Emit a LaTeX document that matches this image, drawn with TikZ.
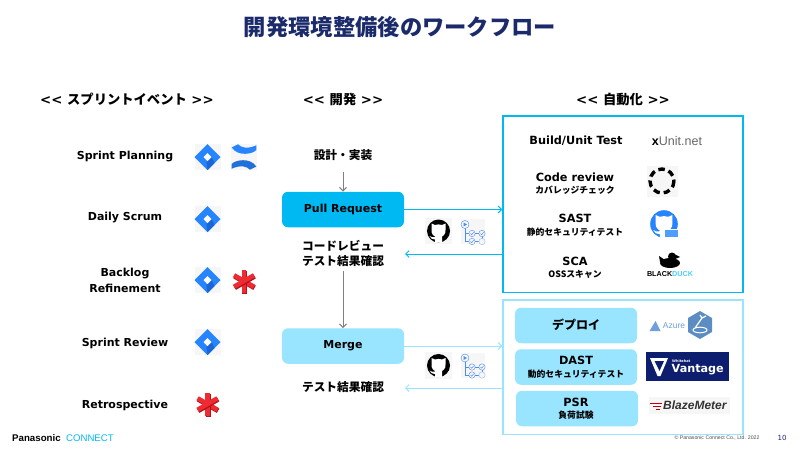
\documentclass[tikz,border=0pt]{standalone}
\usepackage{fontspec}
\setmainfont{DejaVu Sans}
\newfontfamily\jp{Noto Sans CJK JP}
\newfontfamily\lib{Liberation Sans}
\usetikzlibrary{arrows.meta}

\definecolor{titlenavy}{HTML}{1B2A6B}
\definecolor{pullcyan}{HTML}{00B9F2}
\definecolor{mergecyan}{HTML}{99E5FF}
\definecolor{jirablue}{HTML}{2684FF}
\definecolor{jiradark}{HTML}{1A66D6}
\definecolor{iconbg}{HTML}{F6F6F6}
\definecolor{starred}{HTML}{EE2A33}
\definecolor{stardark}{HTML}{B5121B}
\definecolor{vantagenavy}{HTML}{0E1E6E}
\definecolor{azureblue}{HTML}{6F9FDC}
\definecolor{hexblue}{HTML}{5B8DC2}
\definecolor{pipeblue}{HTML}{4A8CF0}

\tikzset{
  every node/.style={inner sep=0pt, font=\bfseries},
  heading/.style={font=\fontsize{13.3}{16}\bfseries},
  eventlabel/.style={font=\fontsize{11}{16}\bfseries, align=center},
  steplabel/.style={font=\fontsize{11.7}{15}\bfseries\jp, align=center},
  toolname/.style={font=\fontsize{11.3}{14}\bfseries, align=center},
  toolnote/.style={font=\fontsize{8.8}{11}\bfseries\jp, align=center},
  graylink/.style={draw=black!50, line width=1pt, -{Straight Barb[length=3.5pt,width=7pt]}},
  pulllink/.style={draw=pullcyan, line width=1pt, -{Straight Barb[length=3.5pt,width=7pt]}},
  mergelink/.style={draw=mergecyan, line width=1pt, -{Straight Barb[length=3.5pt,width=7pt]}},
  flowbox/.style={rounded corners=6pt, minimum width=122pt, minimum height=35.5pt, font=\fontsize{11}{14}\bfseries},
  toolbox/.style={fill=mergecyan, rounded corners=6pt, minimum width=122pt, minimum height=35.5pt},
  pics/jiraicon/.style={code={
    \fill[iconbg] (-13,-13) rectangle (13,13);
    \fill[jirablue] (-13,0) -- (0,-13) -- (13,0) -- (0,13) -- cycle;
    \fill[jiradark] (4,0) -- (7,6) -- (0,13) -- (-1,5) -- cycle;
    \fill[white] (-4,0) -- (0,-4) -- (4,0) -- (0,4) -- cycle;
  }},
  pics/confluenceicon/.style={code={
    \fill[iconbg] (-13,-13) rectangle (13,13);
    \fill[jirablue] (-12.3,-9.5) -- (-6,-12.7) .. controls (-3,-9.5) and (3,-7.5) .. (12.3,-11.7) -- (12.3,-7) .. controls (9,-3) and (-6,0) .. (-12.3,-9.5) -- cycle;
    \fill[jirablue!85!black] (12.3,9.5) -- (6,12.7) .. controls (3,9.5) and (-3,7.5) .. (-12.3,11.7) -- (-12.3,7) .. controls (-9,3) and (6,0) .. (12.3,9.5) -- cycle;
  }},
  pics/staricon/.style={code={
    \foreach \a in {30,90,150}{
      \draw[stardark, line width=5pt] (\a:11.5)++(0.6,1) -- ++(\a+180:23);
      \draw[starred, line width=4.5pt] (\a:11.5) -- (\a+180:11.5);
    }
  }},
  pics/gitcat/.style={code={
    \fill[#1] (0,0) circle (11.5);
    \fill[white] (-7,-1) -- (-7,-7.5) -- (-3.5,-6) .. controls (-1,-6.8) and (1,-6.8) .. (3.5,-6) -- (7,-7.5) -- (7,-1) .. controls (7.5,3.5) and (4,5) .. (3.5,5.5) -- (3.5,11.5) -- (-3.5,11.5) -- (-3.5,8.5) .. controls (-6,9) and (-8,7) .. (-9,5) .. controls (-7.5,6) and (-5,7) .. (-3.5,6) -- (-3.5,5.5) .. controls (-4,5) and (-7.5,3.5) .. (-7,-1) -- cycle;
  }},
  pics/pipeicon/.style={code={
    \fill[iconbg] (-12,-12.5) rectangle (12,12.5);
    \draw[pipeblue, thin] (-8,-7) -- (-8,10) -- (-1,10) (-8,2) -- (9,2) (9,2) -- (9,10) -- (-1,10);
    \draw[pipeblue, fill=iconbg] (-8,-7) circle (4);
    \fill[pipeblue] (-9.5,-9) -- (-9.5,-5) -- (-6,-7) -- cycle;
    \foreach \p in {(-1,2),(9,2),(-1,10)}{
      \draw[pipeblue, fill=iconbg] \p circle (3.2);
      \draw[pipeblue, thin] \p ++(-1.5,0) -- ++(1.2,1.2) -- ++(2,-2.4);
    }
    \draw[pipeblue!60, fill=iconbg] (9,10) circle (3.2);
  }}
}

\begin{document}
\begin{tikzpicture}[x=1pt, y=-1pt]
\useasboundingbox (0,0) rectangle (800,450);

% Title
\node[text=titlenavy, font=\fontsize{22.3}{26}\bfseries\jp] (title) at (400,27) {開発環境整備後のワークフロー};

% Column headings
\node[heading] (headevent) at (127,99.5) {<{}< {\jp スプリントイベント} >{}>};
\node[heading] (headdev) at (343,99.5) {<{}< {\jp 開発} >{}>};
\node[heading] (headauto) at (623,99.5) {<{}< {\jp 自動化} >{}>};

% Sprint events
\node[eventlabel] (planning) at (125,156.5) {Sprint Planning};
\node[eventlabel] (daily) at (125,218) {Daily Scrum};
\node[eventlabel] (backlog) at (125,280) {Backlog\\Refinement};
\node[eventlabel] (review) at (125,343) {Sprint Review};
\node[eventlabel] (retro) at (125,405) {Retrospective};

% Event icons
\foreach \y in {157,219,280,342}
  \pic at (207.5,\y) {jiraicon};
\pic at (244,157) {confluenceicon};
\pic at (244,281) {staricon};
\pic at (207.5,404) {staricon};

% Development flow
\node[steplabel] (design) at (343,155) {設計・実装};
\node[flowbox, fill=pullcyan] (pull) at (343,209.5) {Pull Request};
\node[steplabel] (codecheck) at (343,253.5) {コードレビュー\\テスト結果確認};
\node[flowbox, fill=mergecyan] (merge) at (343,346) {Merge};
\node[steplabel] (testcheck) at (343,387) {テスト結果確認};
\draw[graylink, shorten <=11pt] (design.south) -- (pull.north);
\draw[graylink, shorten <=4pt] (codecheck.south) -- (merge.north);

% Automation boxes
\node[draw=pullcyan, line width=1.2pt, minimum width=240pt, minimum height=176.5pt] (autobox) at (623,204.25) {};
\node[draw=mergecyan, line width=1.2pt, minimum width=240pt, minimum height=134.5pt] (mergebox) at (623,367.25) {};

% Links to the boxes
\coordinate (pullback) at (405,254);
\coordinate (mergeback) at (405,388);
\draw[pulllink] (pull.east) -- (pull.east -| autobox.west);
\draw[pulllink] (pullback -| autobox.west) -- (pullback);
\draw[mergelink] (merge.east) -- (merge.east -| mergebox.west);
\draw[mergelink] (mergeback -| mergebox.west) -- (mergeback);

% CI icons
\fill[iconbg] (425,218) rectangle (452,244);
\pic at (438.5,231) {gitcat=black};
\pic at (473,231.5) {pipeicon};
\fill[iconbg] (425,352) rectangle (452,379);
\pic at (438.5,365.5) {gitcat=black};
\pic at (473,365) {pipeicon};

% Upper box: tools
\node[toolname] (build) at (576,141) {Build/Unit Test};
\node[toolname] (code) at (575,177) {Code review};
\node[toolnote] (coverage) at (575,190) {カバレッジチェック};
\node[toolname] (sast) at (575,218) {SAST};
\node[toolnote] (sastnote) at (575,232) {静的セキュリティテスト};
\node[toolname] (sca) at (575,261) {SCA};
\node[toolnote] (scanote) at (575,274) {OSSスキャン};

% Upper box: logos
\node[font=\fontsize{12.5}{14}\lib, text=black!60] (xunit) at (677,141) {{\bfseries\color{black}x}Unit.net};
\fill[iconbg] (647,166) rectangle (678,197);
\draw[black, line width=3.4pt, dash pattern=on 6.5pt off 4pt] (662,181) circle (12);
\pic[scale=1.2] at (664,224) {gitcat=jirablue};
\draw[white, fill=jirablue!80, line width=1pt] (664,229) rectangle (678,237);
\fill[black] (670,263) ellipse (10 and 5);
\fill[black] (672,256.5) circle (4);
\fill[black] (675,254.5) -- (680,257) -- (675,259) -- cycle;
\fill[black] (660,262) -- (659,256) -- (665,260) -- cycle;
\node[font=\fontsize{7.2}{8}\lib\bfseries] (duck) at (670,274) {BLACK{\color{pullcyan!70}DUCK}};

% Lower box: tools
\node[toolbox] (deploy) at (576,325.5) {};
\node[toolbox] (dast) at (576,367) {};
\node[toolbox] (psr) at (577,408.5) {};
\node[font=\fontsize{12}{14}\bfseries\jp] (deploytext) at (576,325) {デプロイ};
\node[toolname] (dasttext) at (576,360) {DAST};
\node[toolnote] (dastnote) at (576,374) {動的セキュリティテスト};
\node[toolname] (psrtext) at (576,402) {PSR};
\node[toolnote] (psrnote) at (576,415) {負荷試験};

% Lower box: logos
\fill[azureblue] (649.5,331) -- (655.5,321) -- (660.5,331) -- cycle;
\node[font=\fontsize{8.5}{10}\lib, text=azureblue] (azure) at (674,326) {Azure};
\fill[hexblue] (700,311) -- (712,318) -- (712,332) -- (700,339) -- (688,332) -- (688,318) -- cycle;
\draw[white, line width=1.2pt] (695,328) -- (702,318) -- (706,316) (702,318) -- (700,315);
\draw[white, line width=1pt] (700,330) ellipse (7 and 2.8);
\fill[vantagenavy] (646,352) rectangle (728.5,381);
\fill[white] (650,358) -- (668,358) -- (660.5,376) -- (657.5,376) -- cycle;
\fill[vantagenavy] (654.5,361) -- (664,361) -- (659.5,371) -- cycle;
\node[font=\fontsize{3.5}{4}\bfseries, text=white, anchor=west] (whitehat) at (672,361) {Whitehat};
\node[font=\fontsize{11.2}{14}\bfseries, text=white, anchor=west] (vantage) at (671.5,370) {Vantage};
\fill[iconbg] (649,397) rectangle (730,414);
\draw[red!75!black, line width=1pt] (650,403) -- (662,403) (653,406) -- (661,406) (656,409) -- (660,409);
\node[font=\fontsize{12}{14}\lib\bfseries\itshape, text=black!80, anchor=west] (blaze) at (663,405.5) {BlazeMeter};

% Footer
\node[font=\fontsize{9.7}{11}\lib\bfseries, anchor=west] (panasonic) at (12,438) {Panasonic};
\node[font=\fontsize{9.6}{11}\lib, text=pullcyan, anchor=west] (connect) at (66,438) {CONNECT};
\node[font=\fontsize{5.2}{6}\mdseries\lib, text=black!70] (copyright) at (717,438) {© Panasonic Connect Co., Ltd. 2022};
\node[font=\fontsize{7}{8}\mdseries, text=titlenavy] (pagenum) at (782,438) {10};

\end{tikzpicture}
\end{document}
